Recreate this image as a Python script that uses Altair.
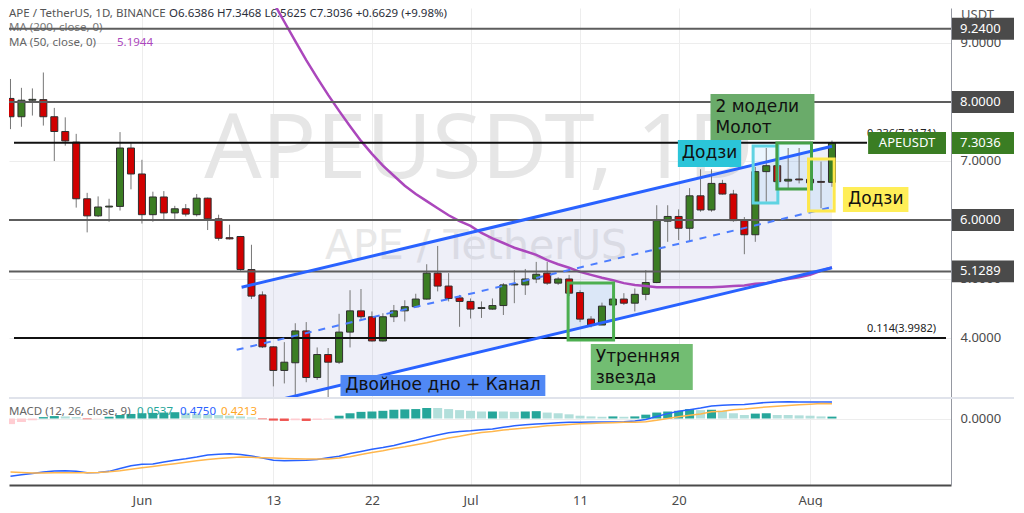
import json
import numpy as np
import pandas as pd
import altair as alt

# ---------------- data ----------------
dates = pd.date_range("2022-05-20", "2022-08-03", freq="D").strftime("%Y-%m-%d").tolist()

opens = [8.06, 7.75, 8.03, 8.04, 7.75, 7.50, 7.32, 6.36, 6.07, 6.22,
         6.23, 7.22, 6.78, 6.09, 6.39, 6.12, 6.19, 6.09, 6.37, 6.02,
         5.70, 5.72, 5.16, 4.73, 3.85, 3.45, 3.58, 4.12, 3.33, 3.72,
         3.59, 4.10, 4.46, 4.36, 3.95, 4.36, 4.46, 4.53, 4.66, 5.10,
         4.88, 4.68, 4.62, 4.50, 4.49, 4.55, 4.90, 4.90, 5.00, 5.10,
         4.93, 5.00, 4.77, 4.32, 4.22, 4.56, 4.66, 4.59, 4.74, 4.94,
         5.98, 6.06, 5.86, 6.41, 6.17, 6.62, 6.44, 5.99, 5.75, 6.82,
         6.92, 6.66, 6.69, 6.69, 6.64, 6.6386]
highs = [8.39, 8.24, 8.23, 8.50, 7.90, 7.74, 7.46, 6.46, 6.40, 6.36,
         7.49, 7.30, 7.02, 6.48, 6.49, 6.24, 6.27, 6.44, 6.38, 6.09,
         5.92, 5.73, 5.58, 4.79, 3.86, 3.93, 4.25, 4.27, 3.84, 3.83,
         4.41, 4.81, 4.83, 4.45, 4.42, 4.56, 4.64, 4.75, 5.25, 5.56,
         5.10, 4.73, 4.67, 4.62, 4.67, 4.93, 5.15, 5.17, 5.29, 5.29,
         5.03, 5.07, 4.81, 4.37, 4.60, 4.71, 4.76, 4.84, 5.15, 6.25,
         6.25, 6.18, 6.54, 6.86, 6.86, 6.68, 6.51, 6.05, 6.90, 7.22,
         6.95, 7.22, 7.22, 6.90, 6.99, 7.3468]
lows = [7.54, 7.58, 7.77, 7.60, 7.00, 7.26, 6.21, 5.79, 6.05, 5.97,
        6.16, 6.52, 5.94, 5.97, 6.00, 6.02, 6.06, 6.06, 5.83, 5.65,
        5.67, 5.14, 4.66, 3.83, 3.18, 3.23, 3.00, 3.25, 3.29, 3.00,
        3.56, 3.84, 4.32, 3.94, 3.94, 4.27, 4.28, 4.52, 4.65, 4.79,
        4.62, 4.19, 4.33, 4.34, 4.48, 4.39, 4.59, 4.73, 4.93, 4.90,
        4.90, 4.71, 4.27, 4.18, 4.22, 4.54, 4.56, 4.45, 4.64, 4.93,
        5.63, 5.66, 5.63, 6.14, 6.14, 6.43, 5.97, 5.42, 5.63, 6.31,
        6.63, 6.54, 6.62, 6.60, 6.20, 6.5625]
closes = [7.75, 8.03, 8.04, 7.75, 7.50, 7.34, 6.36, 6.07, 6.22, 6.23,
          7.22, 6.78, 6.09, 6.39, 6.12, 6.19, 6.10, 6.37, 6.02, 5.69,
          5.68, 5.16, 4.71, 3.85, 3.45, 3.59, 4.12, 3.33, 3.72, 3.59,
          4.10, 4.46, 4.36, 3.95, 4.36, 4.46, 4.53, 4.66, 5.10, 4.88,
          4.67, 4.62, 4.49, 4.51, 4.55, 4.90, 4.91, 5.00, 5.08, 4.93,
          5.00, 4.76, 4.32, 4.22, 4.54, 4.66, 4.59, 4.74, 4.94, 5.99,
          6.06, 5.86, 6.41, 6.17, 6.62, 6.44, 5.99, 5.75, 6.82, 6.92,
          6.65, 6.69, 6.68, 6.63, 6.6386, 7.3036]

ma50_dates = pd.date_range("2022-06-09", "2022-08-03", freq="D").strftime("%Y-%m-%d").tolist()
ma50 = [11.17, 10.81, 10.44, 10.03, 9.69, 9.36, 9.03, 8.71, 8.41, 8.12,
        7.85, 7.59, 7.34, 7.12, 6.92, 6.75, 6.58, 6.44, 6.32, 6.20,
        6.08, 5.98, 5.90, 5.78, 5.69, 5.61, 5.53, 5.47, 5.41, 5.32,
        5.25, 5.19, 5.12, 5.07, 5.02, 4.98, 4.93, 4.90, 4.88, 4.86,
        4.86, 4.86, 4.86, 4.86, 4.86, 4.87, 4.88, 4.89, 4.92, 4.93,
        4.97, 5.00, 5.03, 5.07, 5.14, 5.1944]

macd_line = [-1.65, -1.61, -1.57, -1.53, -1.50, -1.49, -1.51, -1.55, -1.54, -1.51,
             -1.43, -1.35, -1.31, -1.30, -1.24, -1.19, -1.15, -1.10, -1.04, -1.02,
             -1.01, -1.03, -1.07, -1.13, -1.19, -1.21, -1.20, -1.19, -1.17, -1.12,
             -1.08, -1.00, -0.94, -0.88, -0.83, -0.77, -0.69, -0.62, -0.54, -0.47,
             -0.41, -0.37, -0.35, -0.32, -0.30, -0.25, -0.21, -0.18, -0.16, -0.14,
             -0.12, -0.11, -0.11, -0.10, -0.10, -0.10, -0.09, -0.07, -0.03, 0.06,
             0.14, 0.21, 0.25, 0.30, 0.36, 0.38, 0.39, 0.40, 0.43, 0.46,
             0.47, 0.48, 0.47, 0.47, 0.47, 0.4750]
macd_signal = [-1.53, -1.54, -1.56, -1.56, -1.55, -1.55, -1.55, -1.55, -1.54, -1.52,
               -1.49, -1.45, -1.41, -1.37, -1.33, -1.29, -1.25, -1.21, -1.17, -1.14,
               -1.12, -1.10, -1.11, -1.12, -1.13, -1.14, -1.15, -1.16, -1.16, -1.16,
               -1.13, -1.09, -1.03, -0.97, -0.92, -0.86, -0.81, -0.75, -0.69, -0.62,
               -0.56, -0.51, -0.45, -0.40, -0.37, -0.33, -0.30, -0.27, -0.24, -0.21,
               -0.19, -0.17, -0.15, -0.14, -0.13, -0.12, -0.11, -0.11, -0.09, -0.05,
               0.00, 0.05, 0.09, 0.13, 0.19, 0.21, 0.25, 0.27, 0.30, 0.33,
               0.35, 0.37, 0.39, 0.41, 0.43, 0.4213]
macd_hist = [-0.16, -0.10, -0.05, 0.04, 0.07, 0.06, 0.04, -0.02, -0.01, 0.05,
             0.10, 0.13, 0.15, 0.16, 0.17, 0.18, 0.16, 0.14, 0.12, 0.10,
             0.08, 0.06, 0.03, -0.02, -0.06, -0.07, -0.05, -0.07, -0.04, -0.02,
             0.08, 0.15, 0.19, 0.20, 0.22, 0.25, 0.26, 0.27, 0.30, 0.30,
             0.27, 0.24, 0.22, 0.20, 0.20, 0.20, 0.19, 0.20, 0.21, 0.17,
             0.15, 0.12, 0.08, 0.06, 0.05, 0.06, 0.05, 0.06, 0.11, 0.17,
             0.20, 0.22, 0.27, 0.24, 0.25, 0.22, 0.15, 0.10, 0.14, 0.15,
             0.10, 0.10, 0.09, 0.08, 0.06, 0.0537]
macd_hist_kind = ["lp", "lp", "lp", "dt", "dt", "lt", "lt", "rd", "lp", "dt",
                  "dt", "dt", "dt", "dt", "dt", "dt", "lt", "lt", "lt", "lt",
                  "lt", "lt", "lt", "rd", "rd", "rd", "lp", "rd", "lp", "lp",
                  "dt", "dt", "dt", "dt", "dt", "dt", "dt", "dt", "dt", "lt",
                  "lt", "lt", "lt", "lt", "dt", "lt", "lt", "dt", "dt", "lt",
                  "lt", "lt", "lt", "lt", "lt", "dt", "lt", "dt", "dt", "dt",
                  "dt", "dt", "dt", "lt", "dt", "lt", "lt", "lt", "dt", "dt",
                  "lt", "lt", "lt", "lt", "lt", "dt"]
hist_palette = {"dt": "#26a69a", "lt": "#b2dfdb", "rd": "#ef5350", "lp": "#ffcdd2"}

level_prices = [9.24, 8.0, 6.0, 5.1289]
level_labels = ["9.2400", "8.0000", "6.0000", "5.1289"]
last_price = 7.3036
last_label = "7.3036"

fib_prices = [7.31, 3.9982]
fib_labels = ["0.236(7.2171)", "0.114(3.9982)"]

channel_days = [9.1, 63.0]
channel_upper = [4.86, 7.25]
channel_lower = [2.80, 5.19]
channel_mid_days = [8.65, 63.0]
channel_mid = [3.80, 6.22]

tick_dates = ["2022-06-01", "2022-06-13", "2022-06-22", "2022-07-01", "2022-07-11", "2022-07-20", "2022-08-01"]
tick_labels = ["Jun", "13", "22", "Jul", "11", "20", "Aug"]

# annotation drawings (day offset from 1 Jun, price)
ann_text = ["Двойное дно + Канал", "Утренняя\nзвезда", "Додзи", "2 модели\nМолот", "Додзи"]
ann_fill = ["#5088f5", "#72bd72", "#2bc5d9", "#6aab6a", "#ffee58"]
ann_x0 = [18.13, 40.98, 48.93, 51.91, 64.0]
ann_x1 = [36.83, 50.29, 54.71, 61.40, 69.98]
ann_top = [3.373, 3.898, 7.356, 8.136, 6.559]
ann_bot = [3.017, 3.119, 6.898, 7.356, 6.136]
ann_align = ["center", "left", "center", "left", "center"]

hl_x0 = [38.91, 55.80, 57.97, 60.86]
hl_x1 = [43.06, 58.06, 61.13, 63.20]
hl_top = [4.932, 7.254, 7.305, 7.034]
hl_bot = [3.966, 6.288, 6.525, 6.153]
hl_color = ["#4caf50", "#5fd3e2", "#43a047", "#fde74c"]

# ---------------- derived frames ----------------
BASE = pd.Timestamp("2022-06-01")
def to_day(s):
    return (pd.Timestamp(s) - BASE).days

tick_days = [to_day(d) for d in tick_dates]

cdf = pd.DataFrame({"date": dates, "open": opens, "high": highs, "low": lows, "close": closes})
cdf["day"] = [to_day(d) for d in dates]
cdf["lo"] = cdf[["open", "close"]].min(axis=1)
cdf["hi"] = np.maximum(cdf[["open", "close"]].max(axis=1), cdf["lo"] + 0.015)
cdf["col"] = np.where(cdf["close"] >= cdf["open"], "#3b7d23", "#d10000")

madf = pd.DataFrame({"day": [to_day(d) for d in ma50_dates], "ma": ma50})

mdf = pd.DataFrame({"day": cdf["day"], "macd": macd_line, "signal": macd_signal,
                    "hist": macd_hist, "kind": macd_hist_kind})
mdf["col"] = [hist_palette[k] for k in macd_hist_kind]
mdf["zero"] = 0.0

X_DOMAIN = [-11.68, 73.41]
Y_DOMAIN = [3.0, 9.593]
M_DOMAIN = [-1.90, 0.586]
W = 942
H_PRICE = 389
H_MACD = 87
FONT = "Noto Sans"
GRID = "#ededed"
BOX_HALF = 0.186

xs = alt.Scale(domain=X_DOMAIN, nice=False, zero=False)
ys = alt.Scale(domain=Y_DOMAIN, nice=False, zero=False)
ms = alt.Scale(domain=M_DOMAIN, nice=False, zero=False)

ax_x_price = alt.Axis(values=tick_days, labels=False, ticks=False, domain=False,
                      grid=True, gridColor=GRID, title=None)
ax_y_price = alt.Axis(orient="right", values=[4, 5, 6, 7, 8, 9], format=".4f", grid=True,
                      gridColor=GRID, ticks=False, domain=True, domainColor="#9598a1",
                      labelPadding=9, labelColor="#4a4a4a", labelFontSize=13,
                      labelFont=FONT, title=None)

def PX(f="day"):
    return alt.X(f"{f}:Q", scale=xs, axis=ax_x_price)

def PY(f):
    return alt.Y(f"{f}:Q", scale=ys, axis=ax_y_price)

layers = []

# watermark
wm = pd.DataFrame({"t": ["APEUSDT, 1D"]})
layers.append(alt.Chart(wm).mark_text(fontSize=90, font=FONT, color="#e6e6e6", align="center",
                                      baseline="alphabetic")
              .encode(text="t:N", x=alt.value(470), y=alt.value(170)))
wm2 = pd.DataFrame({"t": ["APE / TetherUS"]})
layers.append(alt.Chart(wm2).mark_text(fontSize=41, font="DejaVu Sans", color="#e8e8e8",
                                       align="center", baseline="alphabetic")
              .encode(text="t:N", x=alt.value(467), y=alt.value(251)))

# channel fill
chdf = pd.DataFrame({"day": channel_days, "up": channel_upper, "low": channel_lower})
layers.append(alt.Chart(chdf).mark_area(color="#7986cb", opacity=0.13, clip=True)
              .encode(x=PX(), y=PY("low"), y2=alt.Y2("up")))

# highlight boxes fill
hldf = pd.DataFrame({"x0": hl_x0, "x1": hl_x1, "top": hl_top, "bot": hl_bot, "col": hl_color})
layers.append(alt.Chart(hldf).mark_rect(fill="#2196f3", fillOpacity=0.09)
              .encode(x=PX("x0"), x2=alt.X2("x1"), y=PY("bot"), y2=alt.Y2("top")))

# candles
layers.append(alt.Chart(cdf).mark_rule(color="#777777", strokeWidth=1, clip=True)
              .encode(x=PX(), y=PY("low"), y2=alt.Y2("high")))
layers.append(alt.Chart(cdf).mark_bar(size=7, stroke="#2f2f2f", strokeWidth=1, clip=True)
              .encode(x=PX(), y=PY("lo"), y2=alt.Y2("hi"),
                      fill=alt.Fill("col:N", scale=None)))

# legend texts (top-left)
def txt(s, x, y, color, size=11, baseline="middle", weight="normal"):
    return (alt.Chart(pd.DataFrame({"t": [s]}))
            .mark_text(font=FONT, fontSize=size, color=color, align="left", baseline=baseline,
                       fontWeight=weight)
            .encode(text="t:N", x=alt.value(x), y=alt.value(y)))

layers.append(txt("APE / TetherUS, 1D, BINANCE", 0, 6, "#555555", 11.5))
layers.append(txt("O6.6386  H7.3468  L6.5625  C7.3036  +0.6629 (+9.98%)", 160, 6, "#2a2e39", 11.5))
layers.append(txt("MA (200, close, 0)", 0, 20, "#777777", 11.5))
layers.append(txt("MA (50, close, 0)", 0, 35, "#666666", 11.5))
layers.append(txt("5.1944", 108, 35, "#ab47bc", 11.5))

# MA 50
layers.append(alt.Chart(madf).mark_line(color="#ab47bc", strokeWidth=2.5, clip=True)
              .encode(x=PX(), y=PY("ma")))

# horizontal levels
lvdf = pd.DataFrame({"p": level_prices})
layers.append(alt.Chart(lvdf).mark_rule(color="#5d5d5d", strokeWidth=2)
              .encode(y=PY("p")))
fbdf = pd.DataFrame({"p": fib_prices, "x0": [X_DOMAIN[0]] * 2, "x1": [66.2, X_DOMAIN[1]],
                     "lab": fib_labels, "lx": [72.5, 72.5]})
layers.append(alt.Chart(fbdf).mark_rule(color="#111111", strokeWidth=2)
              .encode(y=PY("p"), x=PX("x0"), x2=alt.X2("x1")))
layers.append(alt.Chart(fbdf).mark_text(font=FONT, fontSize=11, color="#222222", align="right",
                                        baseline="bottom", dy=-4)
              .encode(x=PX("lx"), y=PY("p"), text="lab:N"))

# channel lines
layers.append(alt.Chart(chdf).mark_line(color="#2962ff", strokeWidth=3, clip=True)
              .encode(x=PX(), y=PY("up")))
layers.append(alt.Chart(chdf).mark_line(color="#2962ff", strokeWidth=3, clip=True)
              .encode(x=PX(), y=PY("low")))
middf = pd.DataFrame({"day": channel_mid_days, "mid": channel_mid})
layers.append(alt.Chart(middf).mark_line(color="#4c7dff", strokeWidth=2, strokeDash=[7, 7], clip=True)
              .encode(x=PX(), y=PY("mid")))

# highlight outlines
layers.append(alt.Chart(hldf).mark_rect(filled=False, strokeWidth=3)
              .encode(x=PX("x0"), x2=alt.X2("x1"), y=PY("bot"), y2=alt.Y2("top"),
                      stroke=alt.Stroke("col:N", scale=None)))

# annotation labels
anndf = pd.DataFrame({"t": ann_text, "fill": ann_fill, "x0": ann_x0, "x1": ann_x1,
                      "top": ann_top, "bot": ann_bot, "align": ann_align})
anndf["xm"] = (anndf["x0"] + anndf["x1"]) / 2
anndf["ym"] = (anndf["top"] + anndf["bot"]) / 2
layers.append(alt.Chart(anndf).mark_rect()
              .encode(x=PX("x0"), x2=alt.X2("x1"), y=PY("bot"), y2=alt.Y2("top"),
                      fill=alt.Fill("fill:N", scale=None)))
layers.append(alt.Chart(anndf[anndf["align"] == "center"])
              .mark_text(font="DejaVu Sans", fontSize=17, color="#111111", align="center",
                         baseline="middle")
              .encode(x=PX("xm"), y=PY("ym"), text="t:N"))
layers.append(alt.Chart(anndf[anndf["align"] == "left"])
              .mark_text(font="DejaVu Sans", fontSize=17, color="#111111", align="left",
                         baseline="middle", dx=5, dy=-10, lineBreak="\n", lineHeight=21)
              .encode(x=PX("x0"), y=PY("ym"), text="t:N"))

# price-scale tags
tagdf = pd.DataFrame({"p": level_prices, "lab": level_labels})
tagdf["top"] = tagdf["p"] + BOX_HALF
tagdf["bot"] = tagdf["p"] - BOX_HALF
layers.append(alt.Chart(tagdf).mark_rect(fill="#4a4a4a")
              .encode(x=alt.value(943), x2=alt.value(1005), y=PY("bot"), y2=alt.Y2("top")))
layers.append(alt.Chart(tagdf).mark_text(font=FONT, fontSize=13, color="white", align="left",
                                         baseline="middle")
              .encode(x=alt.value(951), y=PY("p"), text="lab:N"))

lastdf = pd.DataFrame({"p": [last_price], "lab": [last_label], "name": ["APEUSDT"],
                       "x0": [66.3], "x1": [X_DOMAIN[1]]})
lastdf["top"] = lastdf["p"] + BOX_HALF
lastdf["bot"] = lastdf["p"] - BOX_HALF
lastdf["xm"] = (lastdf["x0"] + lastdf["x1"]) / 2
layers.append(alt.Chart(lastdf).mark_rect(fill="#3a7d23")
              .encode(x=PX("x0"), x2=alt.X2("x1"), y=PY("bot"), y2=alt.Y2("top")))
layers.append(alt.Chart(lastdf).mark_rect(fill="#3a7d23")
              .encode(x=alt.value(943), x2=alt.value(1005), y=PY("bot"), y2=alt.Y2("top")))
layers.append(alt.Chart(lastdf).mark_text(font=FONT, fontSize=13, color="white", align="center",
                                          baseline="middle")
              .encode(x=PX("xm"), y=PY("p"), text="name:N"))
layers.append(alt.Chart(lastdf).mark_text(font=FONT, fontSize=13, color="white", align="left",
                                          baseline="middle")
              .encode(x=alt.value(951), y=PY("p"), text="lab:N"))

layers.append(txt("USDT", 952, 7, "#555555", 13))

price = alt.layer(*layers).properties(width=W, height=H_PRICE)

# ---------------- MACD pane ----------------
label_expr = "%s[indexof(%s, datum.value)]" % (json.dumps(tick_labels), json.dumps(tick_days))
ax_x_macd = alt.Axis(values=tick_days, labelExpr=label_expr, grid=True, gridColor=GRID,
                     ticks=False, domain=True, domainColor="#4a4a4a", domainWidth=2,
                     labelColor="#4a4a4a", labelFontSize=13, labelFont=FONT,
                     labelPadding=9, title=None)
ax_y_macd = alt.Axis(orient="right", values=[0], format=".4f", grid=True, gridColor=GRID,
                     ticks=False, domain=True, domainColor="#9598a1", labelPadding=9,
                     labelColor="#4a4a4a", labelFontSize=13, labelFont=FONT, title=None)

def MX(f="day"):
    return alt.X(f"{f}:Q", scale=xs, axis=ax_x_macd)

def MY(f):
    return alt.Y(f"{f}:Q", scale=ms, axis=ax_y_macd)

mlayers = []
mlayers.append(alt.Chart(mdf).mark_bar(size=9, clip=True)
               .encode(x=MX(), y=MY("hist"), y2=alt.Y2("zero"),
                       fill=alt.Fill("col:N", scale=None)))
mlayers.append(alt.Chart(mdf).mark_line(color="#2962ff", strokeWidth=1.5, clip=True)
               .encode(x=MX(), y=MY("macd")))
mlayers.append(alt.Chart(mdf).mark_line(color="#ffb74d", strokeWidth=1.5, clip=True)
               .encode(x=MX(), y=MY("signal")))

def mtxt(s, x, color):
    return (alt.Chart(pd.DataFrame({"t": [s]}))
            .mark_text(font=FONT, fontSize=11.5, color=color, align="left", baseline="middle")
            .encode(text="t:N", x=alt.value(x), y=alt.value(14)))

mlayers.append(mtxt("MACD (12, 26, close, 9)", 0, "#666666"))
mlayers.append(mtxt("0.0537", 128, "#26a69a"))
mlayers.append(mtxt("0.4750", 171, "#2962ff"))
mlayers.append(mtxt("0.4213", 212, "#ffa726"))

sep = pd.DataFrame({"p": [M_DOMAIN[1]]})
mlayers.append(alt.Chart(sep).mark_rule(color="#e0e3eb", strokeWidth=2)
               .encode(y=MY("p"), x=alt.value(0), x2=alt.value(1005)))

macd = alt.layer(*mlayers).properties(width=W, height=H_MACD)

chart = (alt.vconcat(price, macd, spacing=0)
         .properties(padding=0, background="white")
         .configure_view(stroke=None))

chart.save("out.html", embed_options={"renderer": "svg", "actions": False})
